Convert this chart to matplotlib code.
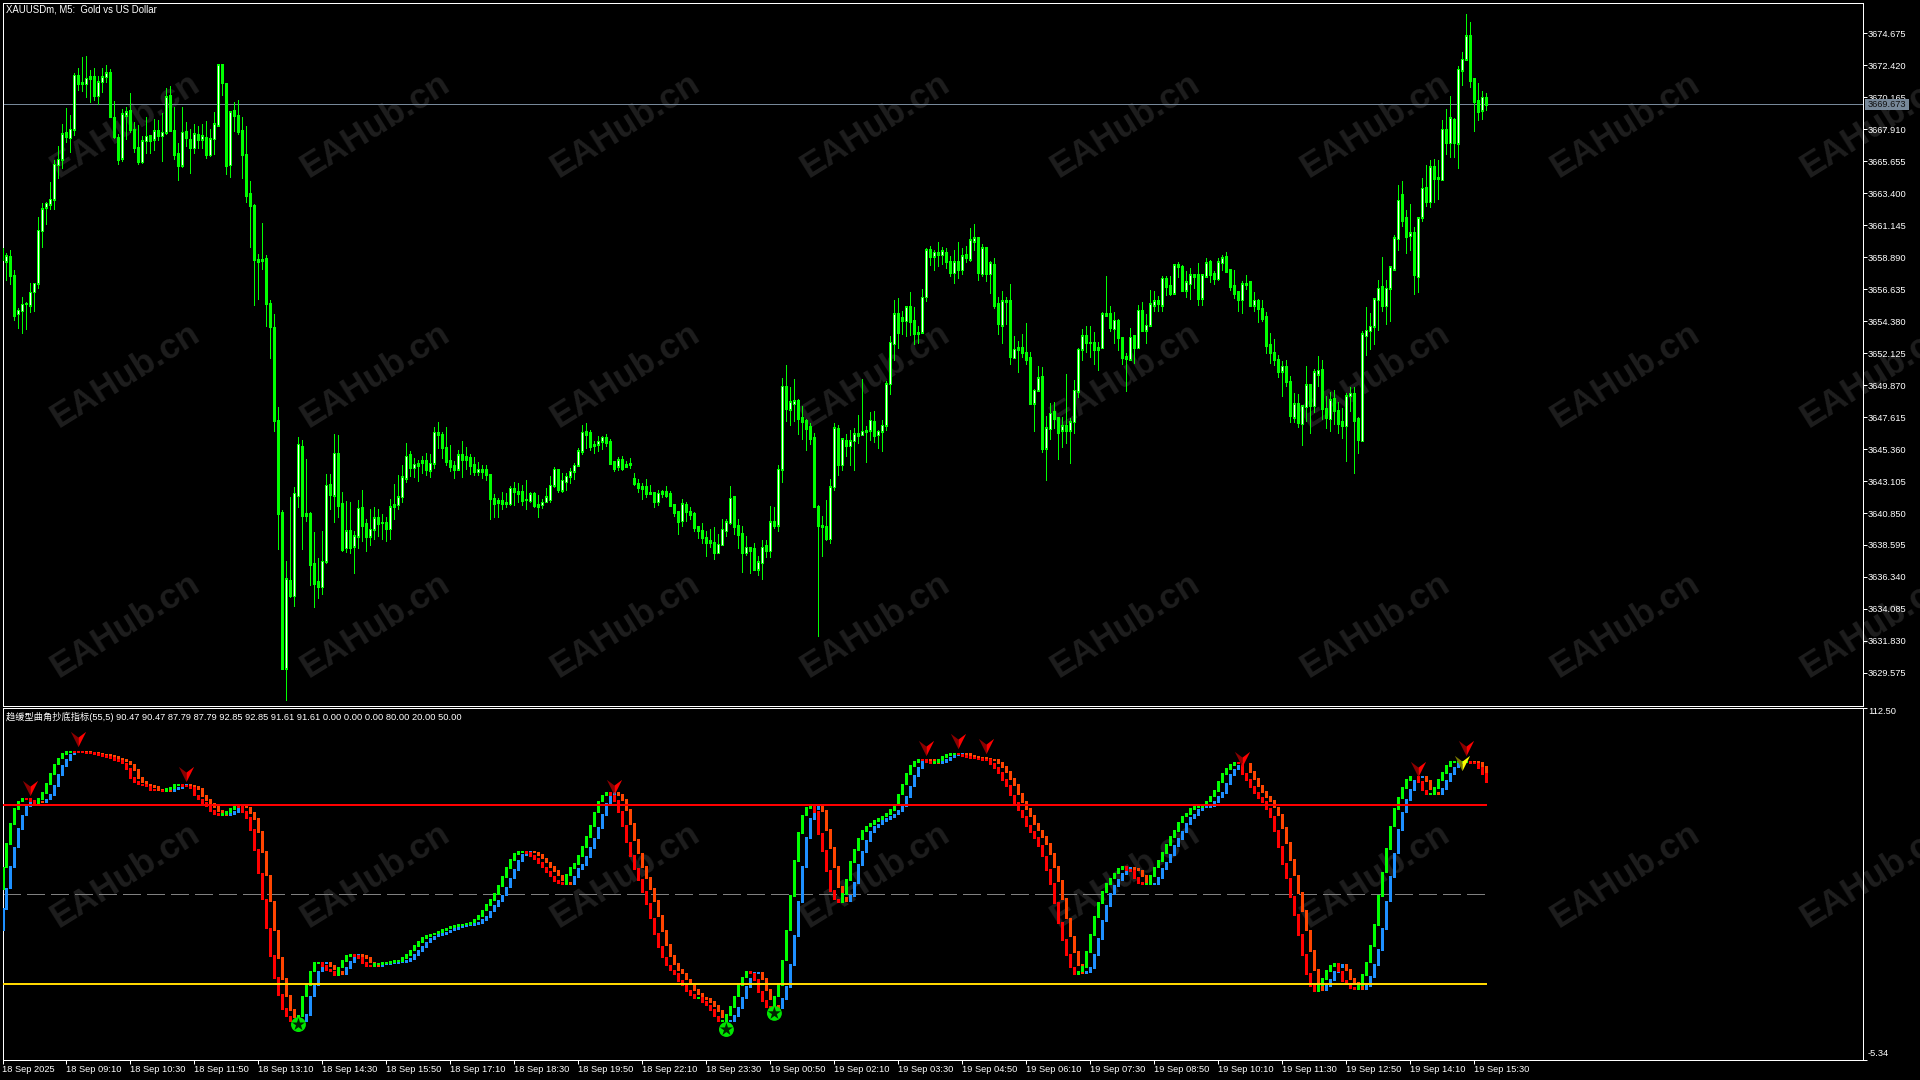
# ---------------- XAUUSDm M5 chart with oscillator ---------------- #
import numpy as np
import matplotlib
matplotlib.use('Agg')
import matplotlib.pyplot as plt
from matplotlib.path import Path
from matplotlib.patches import Rectangle

plt.rcParams['font.family'] = ['Liberation Sans', 'Noto Sans CJK SC', 'DejaVu Sans']

# ---------------------------- Data ------------------------------- #
opens = [
    3658.7,3658.6,3658.9,3657.6,3654.9,3655.1,3655.6,3655.5,3656.45,3657.05,
    3660.75,3662.4,3662.6,3662.97,3665.4,3665.8,3667.7,3667.3,3667.9,3671.7,
    3671.2,3671.1,3671.6,3671.6,3670.25,3671.25,3671.6,3671.9,3668.75,3667.3,
    3665.85,3668.9,3669.2,3667.9,3666.6,3665.6,3667.1,3667.45,3667.2,3667.85,
    3667.45,3667.7,3670.25,3667.85,3666.2,3665.35,3667.75,3667.2,3666.6,3667.55,
    3667.2,3667.3,3666.1,3667.25,3668.2,3672.45,3671.15,3665.4,3669.2,3668.9,
    3667.8,3666.15,3663.35,3662.55,3658.75,3658.75,3658.8,3655.6,3653.95,3647.4,
    3640.9,3629.9,3636.1,3635.0,3642.05,3645.55,3640.8,3640.8,3637.3,3636.0,
    3635.65,3637.45,3642.85,3642.1,3645.05,3641.5,3638.4,3639.6,3638.5,3639.2,
    3641.25,3640.1,3639.2,3639.7,3640.5,3640.2,3640.15,3639.75,3641.3,3641.45,
    3642.0,3643.3,3644.95,3644.05,3644.2,3644.55,3644.55,3643.85,3644.35,3646.55,
    3646.35,3645.5,3644.55,3644.2,3643.95,3644.95,3644.85,3644.75,3644.25,3643.75,
    3643.95,3643.95,3643.6,3641.9,3641.7,3641.7,3641.6,3641.5,3642.55,3642.4,
    3642.4,3641.8,3641.7,3642.2,3641.45,3641.45,3641.65,3641.8,3642.8,3643.95,
    3642.45,3643.05,3643.45,3643.8,3644.2,3645.2,3646.6,3646.5,3645.7,3645.7,
    3645.9,3646.2,3645.9,3644.5,3644.15,3644.6,3644.15,3644.35,3643.3,3642.9,
    3642.6,3642.75,3642.3,3642.3,3641.65,3642.25,3642.35,3642.2,3641.45,3640.95,
    3640.3,3641.45,3640.95,3640.8,3639.9,3639.65,3639.15,3638.9,3638.8,3638.05,
    3638.6,3639.6,3640.15,3642.0,3639.95,3639.4,3638.05,3638.45,3638.35,3636.9,
    3637.35,3638.55,3638.2,3640.25,3640.0,3643.95,3649.8,3648.15,3648.55,3648.75,
    3647.55,3647.35,3646.95,3646.15,3641.3,3640.0,3639.9,3639.05,3642.7,3646.8,
    3644.25,3645.95,3645.6,3645.95,3646.45,3646.35,3646.7,3646.7,3647.3,3646.35,
    3646.6,3647.05,3649.95,3652.8,3654.9,3654.65,3654.4,3655.4,3654.4,3653.6,
    3653.6,3656.1,3659.4,3658.95,3659.2,3659.05,3659.25,3658.6,3657.8,3658.6,
    3658.0,3659.05,3658.75,3660.0,3660.25,3657.7,3659.55,3657.7,3658.4,3655.6,
    3654.1,3655.75,3655.8,3651.8,3652.5,3652.5,3652.2,3651.8,3648.6,3649.5,
    3650.45,3645.4,3646.8,3648.0,3647.55,3646.7,3647.0,3646.7,3647.3,3649.45,
    3652.4,3653.35,3652.9,3652.85,3652.5,3652.5,3654.95,3654.95,3653.85,3654.45,
    3653.2,3651.85,3651.7,3653.35,3652.5,3655.15,3653.75,3654.1,3655.5,3655.8,
    3655.5,3657.4,3656.9,3656.35,3658.35,3658.25,3656.55,3657.0,3657.65,3657.65,
    3656.0,3657.55,3658.55,3657.7,3657.35,3658.5,3658.9,3658.05,3656.9,3656.45,
    3655.9,3657.05,3657.15,3655.5,3655.8,3655.3,3654.7,3652.7,3652.2,3651.7,
    3650.85,3651.15,3650.1,3647.6,3648.55,3647.15,3648.35,3649.9,3648.4,3650.65,
    3650.95,3648.25,3647.5,3648.9,3648.05,3647.3,3647.0,3649.1,3649.25,3647.5,
    3645.95,3653.35,3653.7,3654.0,3655.9,3656.8,3655.45,3656.7,3658.05,3660.2,
    3663.28,3661.65,3660.4,3660.6,3657.5,3661.7,3663.8,3662.8,3665.3,3664.5,
    3664.35,3667.9,3666.95,3668.6,3666.9,3672.05,3672.85,3674.5,3671.45,3669.9,3669.25,3670.15,
]
closes = [
    3659.5,3659.0,3657.6,3654.8,3655.15,3655.55,3655.6,3656.4,3657.05,3660.8,
    3662.3,3662.7,3662.97,3665.45,3665.8,3667.6,3667.4,3667.9,3671.7,3671.1,
    3671.1,3671.5,3671.45,3670.25,3671.25,3671.6,3671.9,3668.8,3667.4,3665.8,
    3669.0,3669.15,3667.9,3666.6,3665.65,3667.1,3667.4,3667.1,3667.8,3667.45,
    3667.7,3670.2,3667.85,3666.1,3665.35,3667.7,3667.3,3666.6,3667.6,3667.15,
    3667.45,3666.15,3667.25,3668.3,3672.45,3671.2,3665.35,3669.15,3668.85,3667.75,
    3666.1,3663.2,3662.55,3658.7,3658.6,3658.65,3655.6,3654.0,3647.4,3640.8,
    3629.9,3636.2,3635.0,3642.25,3645.7,3640.7,3640.7,3637.25,3635.9,3635.65,
    3637.45,3642.8,3642.15,3645.05,3641.4,3638.3,3639.6,3638.45,3639.25,3641.2,
    3639.95,3639.2,3639.7,3640.5,3640.1,3640.2,3639.75,3641.3,3641.45,3642.0,
    3643.4,3644.85,3644.05,3644.3,3644.35,3644.4,3643.9,3644.35,3646.55,3646.35,
    3645.45,3644.5,3644.15,3643.9,3644.95,3644.65,3644.6,3644.2,3643.75,3643.95,
    3643.8,3643.55,3641.85,3641.55,3641.6,3641.55,3641.5,3642.6,3642.35,3642.2,
    3641.7,3641.8,3642.2,3641.35,3641.3,3641.6,3642.0,3642.8,3643.95,3642.5,
    3643.15,3643.45,3643.8,3644.2,3645.25,3646.55,3646.4,3645.55,3645.6,3645.9,
    3646.2,3645.8,3644.35,3644.0,3644.6,3644.0,3644.3,3644.3,3642.9,3642.65,
    3642.75,3642.2,3642.2,3641.65,3642.25,3642.4,3642.05,3641.4,3640.9,3640.25,
    3641.5,3640.95,3640.75,3639.8,3639.6,3639.15,3638.8,3638.8,3638.05,3638.65,
    3639.7,3640.25,3641.9,3639.9,3639.3,3638.1,3638.45,3638.2,3636.9,3637.4,
    3638.45,3638.2,3640.25,3640.0,3643.95,3649.8,3648.25,3648.7,3648.75,3647.5,
    3647.3,3646.8,3646.1,3641.3,3639.95,3639.9,3639.05,3642.7,3646.85,3644.3,
    3646.1,3645.6,3645.95,3646.45,3646.3,3646.6,3646.6,3647.4,3646.3,3646.6,
    3647.05,3649.95,3652.9,3654.9,3653.6,3654.45,3655.4,3654.35,3653.5,3653.5,
    3656.05,3659.4,3658.95,3659.25,3659.05,3659.35,3658.55,3657.8,3658.55,3658.0,
    3659.0,3658.85,3660.1,3660.25,3657.8,3659.55,3657.7,3658.5,3655.5,3654.2,
    3655.8,3655.85,3651.85,3652.4,3652.35,3652.15,3651.7,3648.55,3649.5,3650.4,
    3645.4,3646.85,3647.9,3647.5,3646.55,3647.0,3646.7,3647.3,3649.5,3652.4,
    3653.35,3652.85,3652.85,3652.4,3652.35,3654.9,3654.8,3653.9,3654.45,3653.2,
    3651.8,3651.75,3653.25,3652.5,3655.15,3653.75,3654.1,3655.6,3655.8,3655.6,
    3657.4,3656.85,3656.35,3658.35,3658.2,3656.55,3657.15,3657.65,3657.5,3655.95,
    3657.65,3658.5,3657.65,3657.35,3658.55,3658.85,3657.85,3656.85,3656.3,3655.9,
    3657.0,3656.95,3655.5,3655.85,3655.25,3654.55,3652.65,3652.15,3651.65,3650.85,
    3651.2,3650.1,3647.7,3648.55,3647.2,3648.4,3649.9,3648.4,3650.8,3650.9,
    3648.2,3647.55,3648.85,3648.05,3647.15,3647.05,3649.1,3649.3,3647.35,3646.0,
    3653.5,3653.75,3654.0,3655.95,3656.7,3655.45,3656.7,3658.2,3660.25,3662.9,
    3661.5,3660.35,3660.6,3657.65,3661.65,3663.75,3662.8,3665.25,3664.45,3664.4,
    3667.9,3666.95,3668.7,3666.95,3672.15,3672.85,3674.5,3671.35,3669.85,3669.15,3670.15,3669.67,
]
highs = [
    3659.7,3659.2,3659.4,3658.0,3655.3,3656.05,3655.7,3657.05,3657.05,3661.75,
    3662.7,3662.8,3664.2,3665.75,3666.7,3668.3,3669.4,3668.9,3671.85,3672.2,
    3673.0,3673.05,3672.1,3672.25,3671.65,3672.2,3672.45,3672.15,3669.9,3667.6,
    3669.3,3669.45,3670.45,3668.45,3668.2,3667.45,3668.8,3667.5,3668.6,3668.55,
    3669.05,3670.8,3670.95,3669.5,3666.9,3669.45,3668.45,3667.9,3668.3,3668.15,
    3668.3,3668.5,3667.9,3669.1,3672.45,3672.45,3671.15,3669.15,3669.8,3670.0,
    3668.8,3668.1,3664.25,3662.6,3659.1,3661.3,3659.05,3655.85,3654.9,3648.3,
    3641.05,3637.5,3641.95,3642.65,3646.2,3646.0,3644.65,3640.9,3639.5,3637.7,
    3639.6,3643.6,3643.6,3646.45,3646.35,3642.3,3641.7,3641.6,3639.6,3641.8,
    3642.5,3640.45,3641.1,3641.25,3641.1,3640.75,3640.6,3641.85,3642.9,3643.55,
    3644.25,3645.8,3645.2,3644.7,3644.6,3644.9,3645.05,3645.0,3646.9,3647.3,
    3646.55,3646.9,3645.65,3644.5,3645.3,3645.95,3645.5,3645.0,3644.8,3644.45,
    3644.25,3644.2,3643.6,3642.2,3641.9,3642.3,3642.25,3642.75,3643.05,3642.95,
    3642.85,3643.2,3642.3,3642.3,3642.1,3641.85,3642.6,3643.45,3644.1,3643.95,
    3643.65,3643.7,3644.05,3644.35,3645.4,3647.05,3647.2,3646.7,3645.9,3646.3,
    3646.3,3646.45,3646.1,3644.5,3644.8,3644.85,3644.5,3644.7,3643.7,3643.25,
    3643.0,3643.25,3642.85,3642.3,3642.45,3642.5,3642.75,3642.4,3641.45,3640.95,
    3641.85,3641.6,3641.25,3640.95,3639.95,3640.15,3639.6,3639.75,3639.85,3639.4,
    3640.45,3640.4,3642.75,3642.0,3640.4,3639.95,3639.2,3638.45,3638.75,3637.85,
    3638.95,3638.95,3641.35,3641.3,3644.25,3650.35,3651.25,3649.7,3650.3,3648.9,
    3648.4,3647.5,3647.2,3646.5,3641.45,3640.65,3641.8,3643.25,3647.2,3647.05,
    3646.1,3646.45,3646.7,3646.85,3647.75,3650.3,3646.95,3648.0,3648.05,3646.7,
    3647.4,3650.15,3653.3,3655.9,3656.0,3655.1,3655.45,3656.45,3655.4,3654.0,
    3656.65,3659.55,3659.7,3659.4,3659.95,3659.6,3659.55,3658.95,3659.4,3659.95,
    3659.55,3659.7,3660.95,3661.25,3660.25,3659.8,3659.6,3658.6,3658.85,3656.1,
    3656.5,3656.1,3657.0,3653.3,3653.0,3653.5,3654.25,3652.2,3649.6,3651.2,
    3651.15,3647.7,3648.6,3648.7,3647.6,3647.6,3650.65,3647.55,3650.25,3652.5,
    3653.85,3654.05,3654.05,3653.6,3652.9,3655.05,3657.55,3655.45,3655.05,3654.5,
    3653.2,3652.15,3653.9,3653.35,3655.5,3655.75,3654.9,3656.6,3656.5,3656.15,
    3657.55,3657.55,3657.55,3658.4,3658.55,3658.35,3657.9,3658.15,3657.7,3658.5,
    3657.65,3658.85,3658.7,3657.9,3658.85,3659.05,3659.25,3658.05,3658.0,3656.5,
    3657.2,3657.65,3657.2,3656.45,3655.95,3655.9,3655.05,3653.55,3653.1,3652.0,
    3651.55,3651.65,3650.5,3649.3,3649.25,3648.4,3651.2,3649.95,3651.0,3651.9,
    3651.65,3649.1,3649.4,3649.55,3648.7,3648.25,3649.3,3649.75,3649.7,3647.65,
    3653.7,3655.4,3654.95,3655.95,3657.3,3658.9,3657.3,3658.2,3660.45,3664.0,
    3664.25,3662.2,3662.6,3661.0,3661.65,3664.5,3665.4,3665.75,3665.8,3665.75,
    3668.55,3669.3,3670.25,3668.7,3672.35,3673.35,3676.05,3675.45,3671.45,3671.15,3670.6,3670.45,
]
lows = [
    3658.7,3657.3,3657.0,3654.45,3653.9,3653.55,3653.85,3655.05,3655.1,3656.7,
    3659.6,3661.2,3662.3,3662.25,3664.5,3665.15,3667.0,3666.3,3667.5,3670.7,
    3670.6,3670.2,3669.85,3670.0,3669.7,3670.55,3671.25,3668.75,3667.3,3665.45,
    3665.7,3667.2,3667.7,3666.3,3665.45,3665.5,3666.2,3666.2,3666.45,3667.15,
    3665.7,3667.6,3667.8,3665.8,3664.35,3665.25,3666.7,3664.85,3666.25,3666.55,
    3666.55,3665.9,3666.0,3666.15,3668.2,3670.35,3664.75,3664.55,3667.75,3667.6,
    3664.5,3662.8,3659.6,3655.5,3655.95,3658.05,3654.05,3651.8,3646.65,3638.3,
    3629.9,3627.65,3634.9,3634.3,3641.25,3638.3,3640.3,3635.75,3634.2,3634.85,
    3635.15,3637.3,3641.15,3640.25,3640.6,3638.2,3638.1,3638.0,3636.65,3638.4,
    3638.9,3638.2,3638.6,3639.0,3639.25,3639.0,3638.85,3639.05,3640.4,3641.1,
    3641.65,3643.05,3643.45,3643.4,3643.1,3643.65,3643.5,3643.4,3644.0,3645.4,
    3644.75,3644.2,3643.8,3643.35,3643.9,3643.4,3643.95,3643.6,3643.5,3643.55,
    3643.35,3643.2,3640.45,3640.6,3640.6,3641.1,3641.25,3641.45,3641.45,3641.65,
    3641.45,3641.15,3641.6,3641.3,3640.55,3641.2,3641.6,3641.6,3642.7,3642.3,
    3642.35,3642.5,3643.0,3643.25,3644.15,3645.0,3645.45,3645.3,3645.1,3645.2,
    3645.35,3645.55,3644.3,3643.8,3643.85,3643.9,3644.1,3644.0,3642.85,3642.3,
    3641.85,3642.0,3642.2,3641.3,3641.45,3641.95,3642.0,3641.4,3640.65,3639.4,
    3639.9,3640.3,3640.45,3639.6,3639.1,3638.75,3637.85,3638.45,3637.6,3638.0,
    3638.6,3639.25,3640.1,3639.4,3638.35,3636.7,3637.9,3636.65,3636.85,3636.5,
    3636.2,3637.75,3637.75,3639.8,3639.55,3643.05,3647.35,3647.05,3647.35,3646.45,
    3646.1,3645.3,3645.7,3641.3,3632.15,3637.85,3638.95,3638.75,3642.5,3643.55,
    3643.9,3644.9,3644.25,3643.9,3645.8,3646.35,3644.45,3646.0,3645.85,3645.45,
    3645.25,3646.7,3649.25,3651.65,3652.5,3653.5,3653.3,3653.4,3652.8,3652.85,
    3653.6,3655.8,3658.35,3658.0,3658.25,3658.4,3658.15,3657.55,3657.05,3657.45,
    3657.7,3658.55,3658.6,3659.4,3657.3,3657.55,3657.2,3656.35,3655.3,3653.5,
    3652.85,3654.2,3651.35,3651.8,3650.8,3651.85,3651.35,3648.55,3646.65,3649.5,
    3645.15,3643.2,3646.1,3646.85,3644.65,3645.5,3645.8,3644.4,3646.5,3649.0,
    3651.65,3652.2,3651.85,3651.35,3650.95,3652.5,3654.75,3653.7,3652.85,3652.35,
    3651.35,3649.45,3651.65,3651.45,3652.5,3653.75,3652.85,3654.1,3655.1,3655.1,
    3655.1,3656.25,3656.25,3656.35,3657.5,3656.5,3656.1,3655.95,3656.7,3655.5,
    3655.5,3657.55,3657.15,3657.0,3657.3,3658.0,3657.85,3656.6,3656.0,3655.1,
    3654.95,3656.65,3655.5,3655.1,3654.3,3654.4,3652.15,3651.45,3651.25,3650.45,
    3649.1,3649.8,3647.25,3647.25,3646.9,3645.65,3647.35,3646.5,3648.0,3649.8,
    3647.5,3646.85,3646.65,3647.15,3646.5,3646.15,3644.5,3648.05,3643.65,3645.1,
    3645.95,3652.0,3652.4,3652.8,3653.75,3655.1,3654.2,3654.4,3658.05,3659.4,
    3661.05,3659.2,3659.4,3656.3,3656.4,3661.45,3662.5,3662.4,3662.8,3663.0,
    3664.35,3666.15,3665.95,3665.95,3665.2,3671.0,3672.85,3670.85,3667.8,3668.55,3668.65,3669.25,
]

fast_start = 51.8
fast_vals = [
    59.1,66.9,73.7,78.7,81.2,82.1,82.0,81.5,80.8,82.1,
    84.1,87.1,90.5,93.6,95.6,97.2,97.7,97.9,97.8,97.7,
    97.6,97.5,97.35,97.0,96.7,96.45,96.1,95.7,95.2,94.7,
    93.9,92.2,89.15,87.7,86.9,86.6,86.25,85.1,84.9,84.9,
    84.65,85.45,85.8,86.6,86.6,86.35,86.25,85.8,83.2,81.9,
    80.65,79.5,78.15,77.05,76.5,77.05,77.6,78.7,79.85,79.3,
    77.6,75.7,71.7,64.9,57.1,48.4,38.7,29.4,22.1,16.5,
    11.7,9.2,7.7,7.25,9.5,15.9,19.8,24.3,27.1,27.3,
    26.0,24.9,24.3,23.2,25.65,27.7,29.35,29.9,29.35,28.8,
    27.1,26.2,26.0,26.8,26.9,27.1,27.1,27.45,27.7,27.9,
    28.8,29.9,31.3,32.7,34.2,35.4,36.1,36.65,37.0,37.45,
    38.1,38.7,39.2,39.6,39.8,40.0,40.25,40.7,41.7,42.8,
    44.7,46.5,48.2,50.1,52.9,55.95,58.9,61.7,63.6,64.4,
    64.4,64.0,63.0,61.9,60.55,59.1,57.6,56.1,54.6,53.8,
    53.7,56.5,58.9,60.2,63.0,66.1,69.4,73.1,77.5,81.2,
    83.2,84.2,83.2,81.5,77.6,72.9,67.5,63.0,58.5,54.8,
    51.0,47.0,42.0,36.9,32.5,29.0,26.3,24.65,23.4,21.2,
    19.8,17.8,16.5,15.3,15.3,14.2,12.9,11.4,9.2,7.8,
    7.8,9.7,12.5,15.9,19.8,22.3,24.0,23.6,21.5,17.3,
    14.4,12.5,12.2,15.9,19.8,28.0,38.0,49.6,61.3,70.6,
    76.5,79.1,79.5,77.6,70.3,64.5,58.0,51.2,48.4,47.6,
    50.1,54.8,61.0,64.9,68.6,71.4,72.8,73.7,74.8,75.4,
    76.15,77.0,78.4,79.85,83.55,86.9,90.3,93.0,94.55,95.2,
    95.0,94.55,94.1,94.55,95.2,96.1,96.8,97.2,97.2,96.9,
    96.45,96.1,95.8,95.6,95.35,95.2,95.0,93.85,92.4,90.7,
    88.3,86.35,83.2,80.6,78.2,75.9,73.1,71.1,68.85,66.4,
    62.8,58.3,53.5,47.3,40.6,34.7,29.7,25.65,23.4,24.3,
    25.8,30.7,36.4,42.5,47.1,50.9,53.5,55.4,57.1,58.5,
    59.3,58.4,58.0,55.7,54.0,53.7,53.7,56.3,59.1,61.3,
    63.9,66.7,69.2,71.4,74.2,76.15,77.0,78.6,79.3,79.3,
    79.85,81.2,82.9,84.6,87.6,90.5,92.2,93.5,94.0,93.9,
    90.3,88.3,86.0,84.0,82.4,81.0,78.7,75.9,71.4,66.1,
    60.4,55.4,49.3,43.2,36.6,29.7,23.4,19.5,17.8,19.8,
    21.8,24.5,26.2,26.7,24.3,21.2,20.2,18.7,18.4,19.8,
    23.2,27.3,32.7,39.8,49.6,57.4,65.3,72.8,78.7,82.4,
    85.8,88.5,89.6,89.6,87.7,84.9,83.8,83.8,85.8,88.5,
    90.8,93.0,94.3,94.45,94.45,94.45,94.45,94.2,93.9,92.4,90.3,87.7,
]
slow_start = 38.3
slow_vals = [
    45.1,52.1,59.3,65.8,72.0,76.5,79.5,81.0,81.3,81.2,
    81.0,81.9,83.5,86.5,90.0,93.0,95.2,96.9,97.6,97.85,
    97.8,97.7,97.6,97.45,97.3,96.95,96.65,96.4,96.0,95.6,
    95.1,94.6,93.6,91.8,89.0,87.6,86.85,86.5,86.1,85.05,
    84.9,84.85,84.75,85.4,85.75,86.45,86.6,86.3,86.2,85.4,
    83.0,81.8,80.5,79.4,78.1,77.0,76.6,77.1,77.7,78.8,
    79.7,79.2,77.4,75.3,71.1,64.2,56.4,47.7,38.0,28.9,
    21.7,16.2,11.5,9.1,7.7,7.6,9.8,15.9,19.9,24.3,
    27.0,27.3,26.1,25.0,24.3,23.4,25.4,27.5,29.2,29.9,
    29.4,28.9,27.3,26.3,26.0,26.7,26.9,27.1,27.1,27.4,
    27.6,27.85,28.6,29.7,31.1,32.5,34.0,35.2,36.0,36.6,
    36.95,37.35,38.0,38.6,39.1,39.5,39.75,39.95,40.2,40.6,
    41.5,42.6,44.4,46.2,47.9,49.7,52.4,55.4,58.4,61.2,
    63.2,64.2,64.4,64.1,63.2,62.1,60.8,59.4,57.9,56.4,
    54.9,54.0,53.7,56.0,58.5,60.0,62.5,65.5,68.8,72.4,
    76.7,80.5,82.9,84.0,83.3,81.8,78.4,73.7,68.4,63.8,
    59.3,55.5,51.8,47.8,42.9,37.8,33.2,29.5,26.7,24.9,
    23.6,21.6,20.1,18.2,16.7,15.5,15.1,14.0,12.7,11.1,
    9.0,7.8,7.8,9.3,12.0,15.3,19.1,21.9,23.7,23.7,
    21.9,18.1,15.0,12.9,12.2,15.2,19.0,26.5,36.3,47.6,
    59.2,68.9,75.4,78.7,79.5,78.0,71.7,65.6,59.3,52.5,
    48.9,47.7,49.6,53.9,60.0,64.2,68.0,71.0,72.6,73.5,
    74.6,75.3,76.0,76.85,78.1,79.5,82.8,86.2,89.7,92.5,
    94.3,95.1,95.05,94.65,94.2,94.4,95.0,95.9,96.7,97.1,
    97.2,97.0,96.55,96.2,95.85,95.65,95.4,95.25,95.05,94.1,
    92.7,91.05,88.8,86.75,83.8,81.1,78.7,76.4,73.7,71.5,
    69.3,66.9,63.5,59.2,54.5,48.6,42.0,36.0,30.7,26.5,
    23.9,24.0,25.5,29.7,35.3,41.3,46.3,50.1,53.0,55.0,
    56.8,58.2,59.1,58.6,58.1,56.2,54.3,53.7,53.7,55.7,
    58.5,60.8,63.4,66.2,68.7,71.0,73.6,75.8,76.8,78.3,
    79.2,79.3,79.7,80.9,82.6,84.0,87.0,90.0,91.9,93.2,
    93.9,93.9,91.0,88.7,86.4,84.3,82.7,81.3,79.2,76.8,
    72.3,67.2,61.5,56.4,50.5,44.5,38.0,31.1,24.7,20.3,
    18.1,19.4,21.4,24.0,25.9,26.6,24.9,21.8,20.4,19.0,
    18.5,19.5,22.5,26.5,31.6,38.4,47.7,55.8,63.8,71.6,
    77.5,81.7,85.1,88.0,89.4,89.6,88.1,85.5,84.0,83.8,
    85.4,88.0,90.3,92.6,94.0,94.4,94.45,94.45,94.3,94.0,92.7,90.7,
]

sell_idx = [7, 19, 46, 153, 231, 239, 246, 310, 354, 366]
sell_vals = [85.5, 102.0, 90.3, 86.0, 98.9, 101.2, 99.7, 95.2, 91.9, 98.9]
warn_idx = [365]
warn_vals = [93.9]
star_idx = [74, 181, 193]
star_vals = [6.35, 4.7, 10.1]

price_ticks = [3674.675, 3672.420, 3670.165, 3667.910, 3665.655, 3663.400, 3661.145,
               3658.890, 3656.635, 3654.380, 3652.125, 3649.870, 3647.615, 3645.360,
               3643.105, 3640.850, 3638.595, 3636.340, 3634.085, 3631.830, 3629.575]
bid_price = 3669.673
level_high, level_mid, level_low = 80.0, 50.0, 20.0

time_idx = [0, 16, 32, 48, 64, 80, 96, 112, 128, 144, 160, 176,
            192, 208, 224, 240, 256, 272, 288, 304, 320, 336, 352, 368]
time_labels = ['18 Sep 2025', '18 Sep 09:10', '18 Sep 10:30', '18 Sep 11:50', '18 Sep 13:10',
               '18 Sep 14:30', '18 Sep 15:50', '18 Sep 17:10', '18 Sep 18:30', '18 Sep 19:50',
               '18 Sep 22:10', '18 Sep 23:30', '19 Sep 00:50', '19 Sep 02:10', '19 Sep 03:30',
               '19 Sep 04:50', '19 Sep 06:10', '19 Sep 07:30', '19 Sep 08:50', '19 Sep 10:10',
               '19 Sep 11:30', '19 Sep 12:50', '19 Sep 14:10', '19 Sep 15:30']

title_text = 'XAUUSDm, M5:  Gold vs US Dollar'
osc_text = '趋缓型曲角抄底指标(55,5) 90.47 90.47 87.79 87.79 92.85 92.85 91.61 91.61 0.00 0.00 0.00 80.00 20.00 50.00'

# ---------------------------- Layout ------------------------------ #
W, H = 1920, 1080
PX = 0.72  # one pixel in points at dpi 100
LIME, WHITE, GREY = '#00FF00', '#FFFFFF', '#778899'

fig = plt.figure(figsize=(W / 100, H / 100), dpi=100, facecolor='black')


def pane(left, top, right, bottom):
    ax = fig.add_axes([left / W, 1 - bottom / H, (right - left) / W, (bottom - top) / H])
    ax.patch.set_visible(False)
    for spine in ax.spines.values():
        spine.set_color(WHITE)
        spine.set_linewidth(PX)
    ax.yaxis.tick_right()
    ax.tick_params(colors=WHITE, length=2.9, width=PX, labelsize=6.7, pad=0.6)
    ax.set_xlim(0.05, 465.05)
    return ax


ax_main = pane(2.5, 2.5, 1862.5, 705.5)
ax_osc = pane(2.5, 707.5, 1862.5, 1059.5)

# Watermark sits under both panes
for cx in range(125, 1921, 250):
    for cy in range(125, 1000, 250):
        fig.text(cx / W, 1 - cy / H, 'EAHub.cn', color='#1E1E1E', fontsize=25.5, fontweight='bold',
                 rotation=32, ha='center', va='center', family='Liberation Sans', zorder=-1)

# --------------------------- Candles ------------------------------ #
idx = np.arange(len(closes))
o, c, h, l = np.array(opens), np.array(closes), np.array(highs), np.array(lows)
ax_main.set_ylim(3627.28, 3676.84)
px_price = (3676.84 - 3627.28) / 703
body_lo, body_hi = np.minimum(o, c), np.maximum(o, c)
bull = c > o + 2 * px_price

ax_main.axhline(bid_price, color=GREY, lw=PX, antialiased=False, zorder=1)
ax_main.vlines(idx, l, h, color=LIME, lw=PX, antialiased=False, zorder=2)
ax_main.vlines(idx, body_lo - px_price / 2, body_hi + px_price / 2, color=LIME, lw=3 * PX,
               antialiased=False, capstyle='butt', zorder=3)
ax_main.vlines(idx[bull], body_lo[bull] + px_price, body_hi[bull] - px_price, color=WHITE, lw=PX,
               antialiased=False, capstyle='butt', zorder=4)

ax_main.set_yticks(price_ticks)
ax_main.set_yticklabels(['%.3f' % p for p in price_ticks])
ax_main.set_xticks([])

fig.text(6.5 / W, 1 - 9.3 / H, title_text, color=WHITE, fontsize=6.95, va='center', ha='left', zorder=6)

# Bid price tag on the right scale
fig.add_artist(Rectangle((1865 / W, 1 - 110 / H), 44 / W, 11 / H, transform=fig.transFigure,
                         facecolor=GREY, edgecolor='none', zorder=5))
fig.text(1867.5 / W, 1 - 104.5 / H, '%.3f' % bid_price, color='#101010', fontsize=6.7,
         va='center', ha='left', zorder=6)

# -------------------------- Oscillator ---------------------------- #
ax_osc.set_ylim(-5.34, 112.5)
px_val = (112.5 + 5.34) / 352


def stepped(vals, start, up_color, down_color):
    # each column spans the move from the previous value to this one
    vals = np.array(vals)
    prev = np.concatenate(([start], vals[:-1]))
    lo, hi = np.minimum(prev, vals), np.maximum(prev, vals)
    colors = [up_color if v >= p else down_color for v, p in zip(vals, prev)]
    ax_osc.vlines(idx, lo - px_val * 0.4, hi + px_val * 0.4, colors=colors, lw=3 * PX,
                  antialiased=False, capstyle='butt', zorder=3)


stepped(slow_vals, slow_start, '#1E90FF', '#FF4500')
stepped(fast_vals, fast_start, LIME, '#FF0000')

ax_osc.hlines(level_high, 0.05, 371.2, color='#FF0000', lw=2 * PX, antialiased=False, zorder=4)
ax_osc.hlines(level_low, 0.05, 371.2, color='#FFD700', lw=2 * PX, antialiased=False, zorder=4)
ax_osc.hlines(level_mid, 0.05, 371.2, color='#808080', lw=PX, linestyle=(0, (18, 6)),
              antialiased=False, zorder=2)

# Signal markers
left_half = Path([(-1, 1), (0, 0.25), (0, -1), (-1, 1)])
right_half = Path([(1, 1), (0, 0.25), (0, -1), (1, 1)])
ax_osc.plot(sell_idx, sell_vals, ls='none', marker=left_half, ms=11, mfc='#8B0000', mec='none', zorder=6)
ax_osc.plot(sell_idx, sell_vals, ls='none', marker=right_half, ms=11, mfc='#FF0000', mec='none', zorder=6)
ax_osc.plot(warn_idx, warn_vals, ls='none', marker=left_half, ms=11, mfc='#7A7A00', mec='none', zorder=6)
ax_osc.plot(warn_idx, warn_vals, ls='none', marker=right_half, ms=11, mfc='#FFFF00', mec='none', zorder=6)
ax_osc.scatter(star_idx, star_vals, s=115, color='#00E600', edgecolors='none', zorder=6)
ax_osc.scatter(star_idx, star_vals, s=95, marker='*', color='#002200', edgecolors='none', zorder=7)

# Scale ends carry their labels just inside the pane
ax_osc.set_yticks([112.5, -5.34])
ax_osc.set_yticklabels(['', ''])
fig.text(1868 / W, 1 - 712 / H, '112.50', color=WHITE, fontsize=6.7, va='center', ha='left', zorder=6)
fig.text(1868 / W, 1 - 1053 / H, '-5.34', color=WHITE, fontsize=6.7, va='center', ha='left', zorder=6)

ax_osc.set_xticks(time_idx)
ax_osc.set_xticklabels(time_labels, ha='left')
ax_osc.tick_params(axis='x', pad=1.4)
fig.text(6 / W, 1 - 716.5 / H, osc_text, color=WHITE, fontsize=6.65, va='center', ha='left', zorder=6)

# ------------------------- Save Image ----------------------------- #
fig.savefig('out.png', dpi=100, facecolor='black')
print('Image saved as out.png')
